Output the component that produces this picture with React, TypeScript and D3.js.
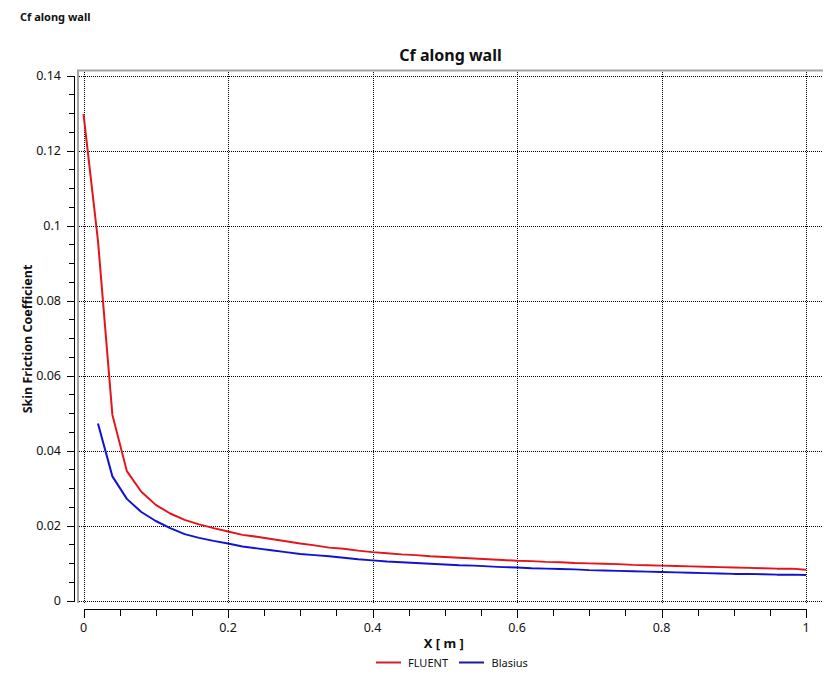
// Cf along wall — FLUENT skin friction vs. Blasius solution along a flat plate.

import * as d3 from 'd3';

const X_M = [
  0, 0.02, 0.04, 0.06, 0.08, 0.1, 0.12, 0.14, 0.16, 0.18,
  0.2, 0.22, 0.24, 0.26, 0.28, 0.3, 0.32, 0.34, 0.36, 0.38,
  0.4, 0.42, 0.44, 0.46, 0.48, 0.5, 0.52, 0.54, 0.56, 0.58,
  0.6, 0.62, 0.64, 0.66, 0.68, 0.7, 0.72, 0.74, 0.76, 0.78,
  0.8, 0.82, 0.84, 0.86, 0.88, 0.9, 0.92, 0.94, 0.96, 0.98, 1,
];

const FLUENT_CF = [
  0.1297, 0.096, 0.0495, 0.0345, 0.029, 0.0255, 0.0232, 0.0215, 0.0203, 0.0193,
  0.0184, 0.0175, 0.017, 0.0164, 0.0158, 0.0152, 0.0147, 0.0141, 0.0138, 0.0133,
  0.0129, 0.0126, 0.0123, 0.0121, 0.0118, 0.0116, 0.0114, 0.0112, 0.011, 0.0108,
  0.0106, 0.0105, 0.0103, 0.0102, 0.01, 0.0099, 0.0098, 0.0097, 0.0095, 0.0094,
  0.0093, 0.0092, 0.0091, 0.009, 0.0089, 0.0088, 0.0087, 0.0086, 0.0085, 0.0085, 0.0082,
];

// Blasius has no value at the leading edge, so it starts at x = 0.02
const BLASIUS_X = X_M.slice(1);
const BLASIUS_CF = [
  0.0472, 0.0331, 0.0271, 0.0236, 0.0212, 0.0193, 0.0177, 0.0167, 0.0159,
  0.0152, 0.0144, 0.0139, 0.0134, 0.0129, 0.0124, 0.0121, 0.0118, 0.0114, 0.011,
  0.0107, 0.0104, 0.0102, 0.01, 0.0098, 0.0096, 0.0094, 0.0093, 0.0091, 0.0089,
  0.0088, 0.0086, 0.0085, 0.0084, 0.0083, 0.0081, 0.008, 0.0079, 0.0078, 0.0077,
  0.0076, 0.0075, 0.0074, 0.0073, 0.0072, 0.0071, 0.0071, 0.007, 0.0069, 0.0069, 0.0068,
];

const X_TICKS = [0, 0.2, 0.4, 0.6, 0.8, 1];
const X_TICK_LABELS = ['0', '0.2', '0.4', '0.6', '0.8', '1'];
const Y_TICKS = [0, 0.02, 0.04, 0.06, 0.08, 0.1, 0.12, 0.14];
const Y_TICK_LABELS = ['0', '0.02', '0.04', '0.06', '0.08', '0.1', '0.12', '0.14'];

const SERIES = ['FLUENT', 'Blasius'];

const RED = '#e3151b';
const BLUE = '#1212d2';
const FRAME = '#a3a3a3';
const FONT = '"Noto Sans", Tahoma, sans-serif';

type Pt = [number, number];

export default function App() {
  const width = 836;
  const height = 689;

  // plot frame (grey top/left edges) and the data region inside it
  const frame = { left: 78, top: 70.5, right: 823, bottom: 603 };

  const xScale = d3.scaleLinear().domain([0, 1]).range([83.5, 806]);
  const yScale = d3.scaleLinear().domain([0, 0.14]).range([600.5, 75.5]);

  const xMinor = xScale.ticks(20);
  const yMinor = yScale.ticks(28);

  const line = d3.line<Pt>()
    .x((d) => xScale(d[0]))
    .y((d) => yScale(d[1]));

  const fluent: Pt[] = X_M.map((x, i) => [x, FLUENT_CF[i]]);
  const blasius: Pt[] = BLASIUS_X.map((x, i) => [x, BLASIUS_CF[i]]);

  const yAxisX = 74.5;
  const xAxisY = 609.5;
  const plotMid = (xScale.range()[0] + xScale.range()[1]) / 2;

  return (
    <svg
      width={width}
      height={height}
      style={{ position: 'absolute', left: 0, top: 0, display: 'block', background: '#fff' }}
      fontFamily={FONT}
    >
      {/* window caption */}
      <text x={20} y={21} fontSize={11} fontWeight="bold" fill="#111">Cf along wall</text>

      {/* chart title */}
      <text x={(frame.left + frame.right) / 2} y={61} fontSize={16} fontWeight="bold" textAnchor="middle" fill="#111">
        Cf along wall
      </text>

      {/* dotted grid */}
      <g stroke="#000" strokeWidth={1} strokeDasharray="1,1" shapeRendering="crispEdges">
        {X_TICKS.map((t) => (
          <line key={`gx${t}`} x1={Math.round(xScale(t)) + 0.5} x2={Math.round(xScale(t)) + 0.5} y1={frame.top + 1} y2={frame.bottom} />
        ))}
        {Y_TICKS.map((t) => (
          <line key={`gy${t}`} x1={frame.left + 1} x2={frame.right} y1={Math.round(yScale(t)) + 0.5} y2={Math.round(yScale(t)) + 0.5} />
        ))}
      </g>

      {/* grey frame edges */}
      <line x1={frame.left - 1} x2={frame.right} y1={frame.top} y2={frame.top} stroke={FRAME} strokeWidth={2} />
      <line x1={frame.left} x2={frame.left} y1={frame.top} y2={frame.bottom} stroke={FRAME} strokeWidth={2} />

      {/* y axis */}
      <g stroke="#000" strokeWidth={1} shapeRendering="crispEdges">
        <line x1={yAxisX} x2={yAxisX} y1={Math.round(yScale(0.14))} y2={Math.round(yScale(0)) + 1} />
        {yMinor.map((t) => (
          <line key={`ym${t}`} x1={yAxisX - 6} x2={yAxisX} y1={Math.round(yScale(t)) + 0.5} y2={Math.round(yScale(t)) + 0.5} />
        ))}
        {Y_TICKS.map((t) => (
          <line key={`yM${t}`} x1={yAxisX - 8} x2={yAxisX} y1={Math.round(yScale(t)) + 0.5} y2={Math.round(yScale(t)) + 0.5} />
        ))}
      </g>
      {Y_TICKS.map((t, i) => (
        <text key={`yl${t}`} x={61} y={yScale(t)} dy="0.36em" fontSize={12.5} textAnchor="end" fill="#111">
          {Y_TICK_LABELS[i]}
        </text>
      ))}
      <text
        transform={`translate(32,${(yScale(0) + yScale(0.14)) / 2 + 1}) rotate(-90)`}
        fontSize={12.5}
        fontWeight="bold"
        textAnchor="middle"
        fill="#111"
      >
        Skin Friction Coefficient
      </text>

      {/* x axis */}
      <g stroke="#000" strokeWidth={1} shapeRendering="crispEdges">
        <line x1={Math.round(xScale(0))} x2={Math.round(xScale(1)) + 1} y1={xAxisY} y2={xAxisY} />
        {xMinor.map((t) => (
          <line key={`xm${t}`} x1={Math.round(xScale(t)) + 0.5} x2={Math.round(xScale(t)) + 0.5} y1={xAxisY} y2={xAxisY + 6} />
        ))}
        {X_TICKS.map((t) => (
          <line key={`xM${t}`} x1={Math.round(xScale(t)) + 0.5} x2={Math.round(xScale(t)) + 0.5} y1={xAxisY} y2={xAxisY + 8} />
        ))}
      </g>
      {X_TICKS.map((t, i) => (
        <text key={`xl${t}`} x={xScale(t)} y={632} fontSize={12.5} textAnchor="middle" fill="#111">
          {X_TICK_LABELS[i]}
        </text>
      ))}
      <text x={plotMid - 1} y={648} fontSize={13} fontWeight="bold" textAnchor="middle" fill="#111">
        X [ m ]
      </text>

      {/* data */}
      <path d={line(blasius) ?? ''} fill="none" stroke={BLUE} strokeWidth={2} strokeLinejoin="round" />
      <path d={line(fluent) ?? ''} fill="none" stroke={RED} strokeWidth={2} strokeLinejoin="round" />

      {/* legend */}
      <g fontSize={11} fill="#111">
        <line x1={376} x2={401} y1={662.5} y2={662.5} stroke="#d02028" strokeWidth={2} />
        <text x={408} y={667}>{SERIES[0]}</text>
        <line x1={459} x2={484} y1={662.5} y2={662.5} stroke="#1a1aa0" strokeWidth={2} />
        <text x={491.5} y={667}>{SERIES[1]}</text>
      </g>
    </svg>
  );
}
